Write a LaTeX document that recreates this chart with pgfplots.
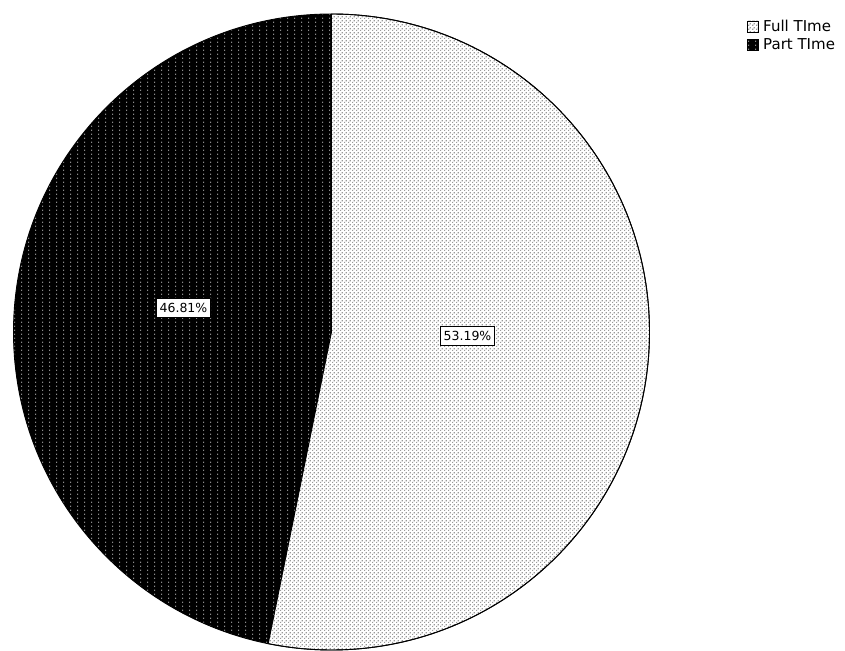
\documentclass[border=0pt]{standalone}
\usepackage{pgfplots}
\usepackage{pgfplotstable}
\pgfplotsset{compat=1.18}
\usetikzlibrary{patterns}
\usepackage{fontspec}
\setmainfont{DejaVu Sans}

\definecolor{dotgray}{rgb}{0.6,0.6,0.6}
\definecolor{ptgray}{rgb}{0.55,0.55,0.55}

% light checker dots (Full Time)
\pgfdeclarepatternformonly{ftdots}{\pgfqpoint{0pt}{0pt}}{\pgfqpoint{4pt}{4pt}}{\pgfqpoint{4pt}{4pt}}{%
  \pgfpathrectangle{\pgfqpoint{0pt}{0pt}}{\pgfqpoint{1.5pt}{1.5pt}}%
  \pgfpathrectangle{\pgfqpoint{2pt}{2pt}}{\pgfqpoint{1.5pt}{1.5pt}}%
  \pgfusepath{fill}}
% sparse dots on black (Part Time)
\pgfdeclarepatternformonly{ptdots}{\pgfqpoint{0pt}{0pt}}{\pgfqpoint{6.5pt}{4pt}}{\pgfqpoint{6.5pt}{4pt}}{%
  \pgfpathrectangle{\pgfqpoint{0pt}{0pt}}{\pgfqpoint{1.2pt}{1.6pt}}%
  \pgfusepath{fill}}

\pgfplotstableread{
label value
{Full TIme} 53.19
{Part TIme} 46.81
}\piedata

\begin{document}
\begin{tikzpicture}
\useasboundingbox (0,0) rectangle (845pt,650pt);
\pgfplotstablegetelem{0}{value}\of\piedata \let\vA\pgfplotsretval
\pgfplotstablegetelem{1}{value}\of\piedata \let\vB\pgfplotsretval
\pgfmathsetmacro{\aStart}{90}
\pgfmathsetmacro{\aMid}{90-3.6*\vA}
\pgfmathsetmacro{\aEnd}{\aMid-3.6*\vB}
\begin{axis}[
  at={(0,0)}, anchor=south west,
  scale only axis,
  width=845pt, height=650pt,
  xmin=0, xmax=845, ymin=0, ymax=650,
  hide axis,
]
\def\cx{331.5}
\def\cy{318}
\def\R{318pt}
% Full Time wedge
\fill[white] (axis cs:\cx,\cy) -- ++(\aStart:\R) arc[start angle=\aStart, end angle=\aMid, radius=\R] -- cycle;
\fill[pattern=ftdots, pattern color=dotgray] (axis cs:\cx,\cy) -- ++(\aStart:\R) arc[start angle=\aStart, end angle=\aMid, radius=\R] -- cycle;
% Part Time wedge
\fill[black] (axis cs:\cx,\cy) -- ++(\aMid:\R) arc[start angle=\aMid, end angle=\aEnd, radius=\R] -- cycle;
\fill[pattern=ptdots, pattern color=ptgray] (axis cs:\cx,\cy) -- ++(\aMid:\R) arc[start angle=\aMid, end angle=\aEnd, radius=\R] -- cycle;
% outlines
\draw[black, line width=0.9pt] (axis cs:\cx,\cy) -- ++(\aStart:\R) arc[start angle=\aStart, end angle=\aMid, radius=\R] -- cycle;
\draw[black, line width=0.9pt] (axis cs:\cx,\cy) circle[radius=\R];
% value labels
\node[draw=black, line width=0.6pt, fill=white, inner xsep=3pt, inner ysep=0pt, minimum height=19pt, font=\fontsize{12.5}{13}\selectfont]
  at (axis cs:467.5,314) {\pgfmathprintnumber[fixed, precision=2, fixed zerofill, assume math mode=true]{\vA}\%};
\node[draw=black, line width=0.6pt, fill=white, inner xsep=3pt, inner ysep=0pt, minimum height=19pt, font=\fontsize{12.5}{13}\selectfont]
  at (axis cs:183.5,342) {\pgfmathprintnumber[fixed, precision=2, fixed zerofill, assume math mode=true]{\vB}\%};
% legend
\fill[white] (axis cs:747,618) rectangle (axis cs:758,629);
\fill[pattern=ftdots, pattern color=dotgray] (axis cs:747,618) rectangle (axis cs:758,629);
\draw[black, line width=0.7pt] (axis cs:747,618) rectangle (axis cs:758,629);
\fill[black] (axis cs:747,600) rectangle (axis cs:758,611);
\fill[pattern=ptdots, pattern color=ptgray] (axis cs:747,600) rectangle (axis cs:758,611);
\draw[black, line width=0.7pt] (axis cs:747,600) rectangle (axis cs:758,611);
\node[anchor=base west, inner sep=0pt, font=\fontsize{15}{16}\selectfont] at (axis cs:763,618.3) {Full TIme};
\node[anchor=base west, inner sep=0pt, font=\fontsize{15}{16}\selectfont] at (axis cs:763,600) {Part TIme};
\end{axis}
\end{tikzpicture}
\end{document}
